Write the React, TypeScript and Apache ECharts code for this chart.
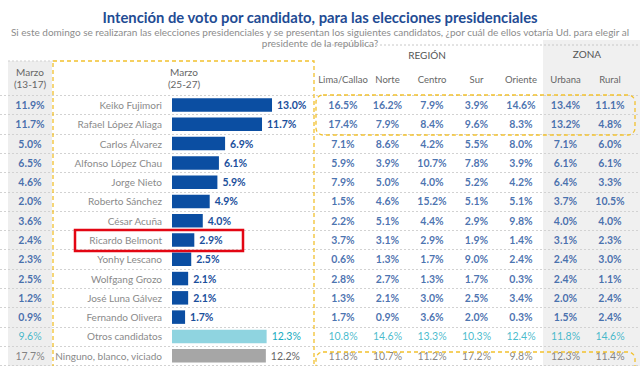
import React, { useEffect, useRef } from "react";
import * as echarts from "echarts";

const titleText = "Intención de voto por candidato, para las elecciones presidenciales";
const subtitleText =
  "Si este domingo se realizaran las elecciones presidenciales y se presentan los siguientes candidatos, ¿por cuál de ellos votaría Ud. para elegir al\npresidente de la república?";

const candidates = [
  "Keiko Fujimori",
  "Rafael López Aliaga",
  "Carlos Álvarez",
  "Alfonso López Chau",
  "Jorge Nieto",
  "Roberto Sánchez",
  "César Acuña",
  "Ricardo Belmont",
  "Yonhy Lescano",
  "Wolfgang Grozo",
  "José Luna Gálvez",
  "Fernando Olivera",
  "Otros candidatos",
  "Ninguno, blanco, viciado",
];

const marzo1317 = [11.9, 11.7, 5.0, 6.5, 4.6, 2.0, 3.6, 2.4, 2.3, 2.5, 1.2, 0.9, 9.6, 17.7];
const marzo2527 = [13.0, 11.7, 6.9, 6.1, 5.9, 4.9, 4.0, 2.9, 2.5, 2.1, 2.1, 1.7, 12.3, 12.2];

const tableColumns = ["Lima/Callao", "Norte", "Centro", "Sur", "Oriente", "Urbana", "Rural"];
const limaCallao = [16.5, 17.4, 7.1, 5.9, 7.9, 1.5, 2.2, 3.7, 0.6, 2.8, 1.3, 1.7, 10.8, 11.8];
const norte = [16.2, 7.9, 8.6, 3.9, 5.0, 4.6, 5.1, 3.1, 1.3, 2.7, 2.1, 0.9, 14.6, 10.7];
const centro = [7.9, 8.4, 4.2, 10.7, 4.0, 15.2, 4.4, 2.9, 1.7, 1.3, 3.0, 3.6, 13.3, 11.2];
const sur = [3.9, 9.6, 5.5, 7.8, 5.2, 5.1, 2.9, 1.9, 9.0, 1.7, 2.5, 2.0, 10.3, 17.2];
const oriente = [14.6, 8.3, 8.0, 3.9, 4.2, 5.1, 9.8, 1.4, 2.4, 0.3, 3.4, 0.3, 12.4, 9.8];
const urbana = [13.4, 13.2, 7.1, 6.1, 6.4, 3.7, 4.0, 3.1, 2.4, 2.4, 2.0, 1.5, 11.8, 12.3];
const rural = [11.1, 4.8, 6.0, 6.1, 3.3, 10.5, 4.0, 2.3, 3.0, 1.1, 2.4, 2.4, 14.6, 11.4];
const tableValues = [limaCallao, norte, centro, sur, oriente, urbana, rural];

const leftHeader = "Marzo\n(13-17)";
const midHeader = "Marzo\n(25-27)";
const regionHeader = "REGIÓN";
const zonaHeader = "ZONA";

const FONT = "Lato";
const BLUE_TEXT = "#1a4f9c";
const BLUE_BAR = "#0b4ea2";
const CYAN_TEXT = "#15aac0";
const CYAN_BAR = "#8fd4e0";
const GRAY_TEXT = "#666666";
const GRAY_BAR = "#a6a6a6";

const textColor = (i: number) => (i === 12 ? CYAN_TEXT : i === 13 ? GRAY_TEXT : BLUE_TEXT);
const barColor = (i: number) => (i === 12 ? CYAN_BAR : i === 13 ? GRAY_BAR : BLUE_BAR);
const weight = (i: number) => (i >= 12 ? "normal" : "bold");

const ROW_TOP = 95.4;
const ROW_H = 19.28;
const GRID_H = ROW_H * candidates.length;

export default function App() {
  const ref = useRef<HTMLDivElement>(null);

  useEffect(() => {
    document.body.style.margin = "0";
    if (!ref.current) return;
    const chart = echarts.init(ref.current, null, { renderer: "svg" });

    const catY = (gridIndex: number, showLabels: boolean, splitLine: boolean) => ({
      type: "category",
      gridIndex,
      data: candidates,
      inverse: true,
      axisLine: { show: false },
      axisTick: { show: false },
      axisLabel: showLabels
        ? { show: true, color: "#8a8a8a", fontSize: 10, fontFamily: FONT, margin: 10 }
        : { show: false },
      splitLine: splitLine
        ? { show: true, interval: 0, lineStyle: { color: "#d2d2d2", type: [2, 2], width: 1 } }
        : { show: false },
    });

    const leftData = marzo1317.map((v, i) => ({
      value: [0, i, v],
      label: { color: textColor(i), fontWeight: weight(i) },
    }));

    const tableData: any[] = [];
    tableValues.forEach((col, c) => {
      col.forEach((v, r) => {
        tableData.push({
          value: [c, r, v],
          label: { color: textColor(r), fontWeight: weight(r) },
        });
      });
    });

    const barData = marzo2527.map((v, i) => ({
      value: v,
      itemStyle: { color: barColor(i) },
      label: { color: textColor(i), fontWeight: weight(i) },
    }));

    const cellLabel = {
      show: true,
      position: "inside",
      fontSize: 10.5,
      fontFamily: FONT,
      formatter: (p: any) => p.value[2].toFixed(1) + "%",
    };

    const option: any = {
      animation: false,
      title: {
        text: titleText,
        subtext: subtitleText,
        left: "center",
        top: 4,
        itemGap: 2,
        textStyle: { fontFamily: FONT, fontWeight: "bold", fontSize: 14.8, color: "#1f4c94" },
        subtextStyle: { fontFamily: FONT, fontSize: 10, color: "#8c8c8c", lineHeight: 11.5 },
      },
      grid: [
        { left: 0, width: 640, top: ROW_TOP, height: GRID_H },
        { left: 8, width: 44, top: ROW_TOP, height: GRID_H },
        { left: 172, width: 115.4, top: ROW_TOP, height: GRID_H },
        { left: 320.75, width: 311.5, top: ROW_TOP, height: GRID_H },
      ],
      xAxis: [
        { type: "value", gridIndex: 0, show: false },
        {
          type: "category",
          gridIndex: 1,
          position: "top",
          data: [leftHeader],
          axisLine: { show: false },
          axisTick: { show: false },
          axisLabel: { color: "#666", fontSize: 10, fontFamily: FONT, lineHeight: 12.6, margin: 5 },
        },
        { type: "value", gridIndex: 2, min: 0, max: 15, show: false },
        {
          type: "category",
          gridIndex: 3,
          position: "top",
          data: tableColumns,
          axisLine: { show: false },
          axisTick: { show: false },
          axisLabel: { color: "#666", fontSize: 9.5, fontFamily: FONT, margin: 11, interval: 0 },
        },
      ],
      yAxis: [catY(0, false, true), catY(1, false, false), catY(2, true, false), catY(3, false, false)],
      series: [
        {
          type: "scatter",
          xAxisIndex: 1,
          yAxisIndex: 1,
          symbolSize: 1,
          itemStyle: { color: "rgba(0,0,0,0)" },
          label: cellLabel,
          data: leftData,
          z: 5,
        },
        {
          type: "bar",
          xAxisIndex: 2,
          yAxisIndex: 2,
          barWidth: 13.5,
          data: barData,
          label: {
            show: true,
            position: "right",
            distance: 5,
            fontSize: 10.5,
            fontFamily: FONT,
            formatter: (p: any) => p.value.toFixed(1) + "%",
          },
          z: 5,
        },
        {
          type: "scatter",
          xAxisIndex: 3,
          yAxisIndex: 3,
          symbolSize: 1,
          itemStyle: { color: "rgba(0,0,0,0)" },
          label: cellLabel,
          data: tableData,
          z: 5,
        },
      ],
      graphic: [
        { type: "rect", z: -1, shape: { x: 8, y: 61, width: 44, height: 310 }, style: { fill: "#eeeeee" } },
        { type: "rect", z: -1, shape: { x: 543, y: 40, width: 97, height: 330 }, style: { fill: "#f0f0f0" } },
        {
          type: "line",
          z: 1,
          shape: { x1: 8, y1: 61, x2: 53, y2: 61 },
          style: { stroke: "#cfcfcf", lineDash: [2, 2], lineWidth: 1 },
        },
        {
          type: "line",
          z: 1,
          shape: { x1: 316, y1: 45, x2: 640, y2: 45 },
          style: { stroke: "#c8c8c8", lineDash: [2, 2], lineWidth: 1 },
        },
        {
          type: "rect",
          z: 10,
          shape: { x: 53, y: 61, width: 261, height: 330 },
          style: { fill: "none", stroke: "#f2c12e", lineWidth: 1.3, lineDash: [4, 3] },
        },
        {
          type: "rect",
          z: 10,
          shape: { x: 316, y: 95, width: 319, height: 40, r: 7 },
          style: { fill: "none", stroke: "#f2c12e", lineWidth: 1.3, lineDash: [4, 3] },
        },
        {
          type: "rect",
          z: 10,
          shape: { x: 316, y: 352, width: 319, height: 30, r: 7 },
          style: { fill: "none", stroke: "#f2c12e", lineWidth: 1.3, lineDash: [4, 3] },
        },
        {
          type: "rect",
          z: 10,
          shape: { x: 75, y: 230, width: 168, height: 21 },
          style: { fill: "none", stroke: "#e30613", lineWidth: 2.5 },
        },
        {
          type: "text",
          z: 10,
          x: 184,
          y: 78,
          style: {
            text: midHeader,
            fill: "#666",
            font: `10px ${FONT}`,
            lineHeight: 12.6,
            align: "center",
            verticalAlign: "middle",
          },
        },
        {
          type: "text",
          z: 10,
          x: 427,
          y: 55,
          style: { text: regionHeader, fill: "#555", font: `10px ${FONT}`, align: "center", verticalAlign: "middle" },
        },
        {
          type: "text",
          z: 10,
          x: 587,
          y: 54,
          style: { text: zonaHeader, fill: "#555", font: `10px ${FONT}`, align: "center", verticalAlign: "middle" },
        },
      ],
    };

    chart.setOption(option);
    return () => chart.dispose();
  }, []);

  return <div ref={ref} style={{ width: 640, height: 366 }} />;
}
